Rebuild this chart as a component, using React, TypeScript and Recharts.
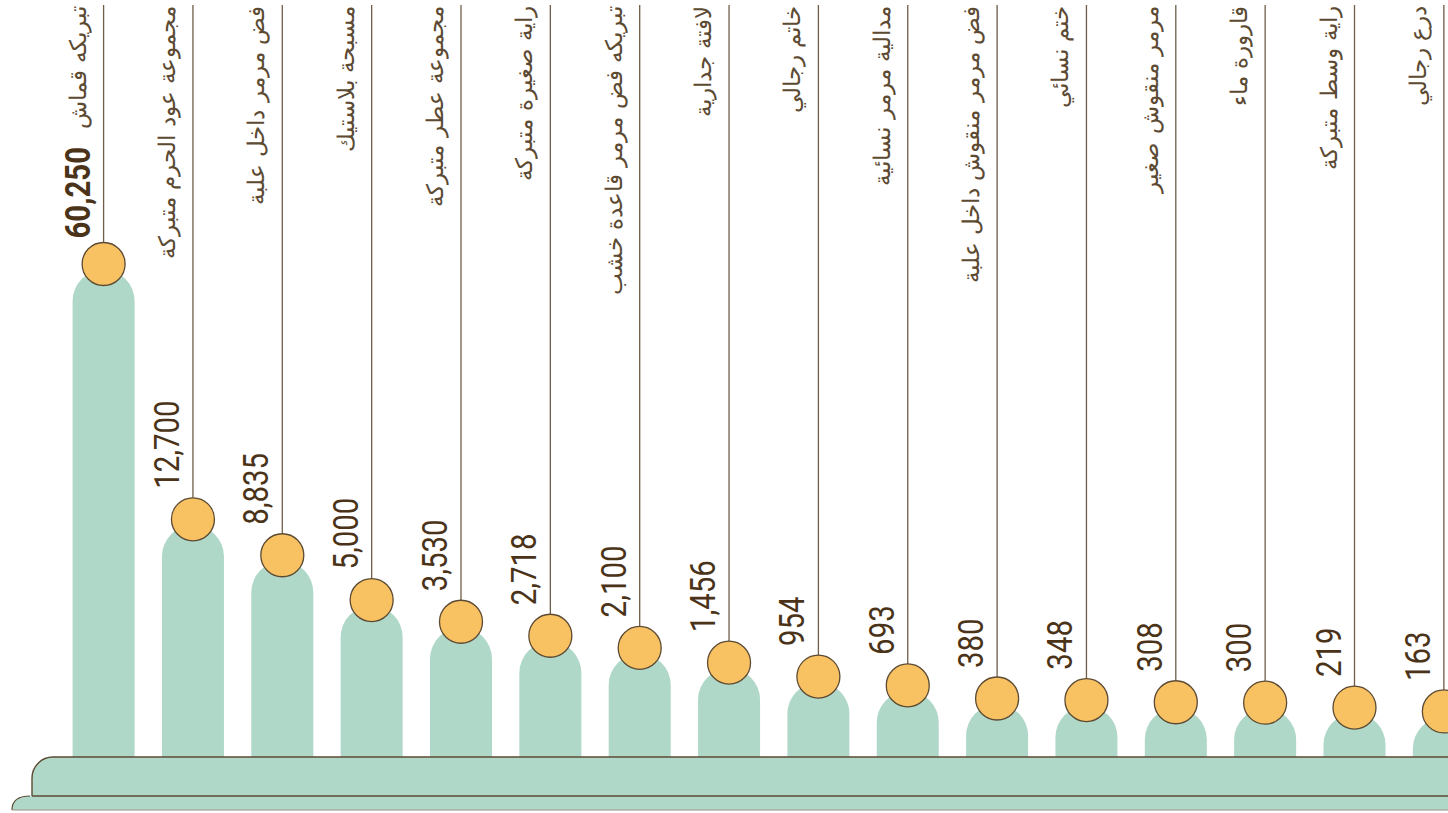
import React from 'react'
import { BarChart, Bar, XAxis, YAxis } from 'recharts'

const names = [
  'تبريكه قماش',
  'مجموعة عود الحرم متبركة',
  'فض مرمر داخل علبة',
  'مسبحة بلاستيك',
  'مجموعة عطر متبركة',
  'راية صغيرة متبركة',
  'تبريكه فض مرمر قاعدة خشب',
  'لافتة جدارية',
  'خاتم رجالي',
  'مدالية مرمر نسائية',
  'فض مرمر منقوش داخل علبة',
  'ختم نسائي',
  'مرمر منقوش صغير',
  'قارورة ماء',
  'راية وسط متبركة',
  'درع رجالي',
]

const values = [60250, 12700, 8835, 5000, 3530, 2718, 2100, 1456, 954, 693, 380, 348, 308, 300, 219, 163]

const data = names.map((name, i) => ({ name, value: values[i] }))

const BAR_FILL = '#b0d8c8'
const DOT_FILL = '#f8c263'
const BROWN = '#5c4a33'
const LINE = '#6e5d48'

const CHART_W = 1500
const CHART_H = 813

const PillarShape = (props: any) => {
  const { x, y, width, height, payload, index } = props
  if (x == null || y == null) return null
  const r = width / 2
  const cx = x + r
  const bottom = y + height + 20
  const path = `M${x},${bottom} L${x},${y + r} A${r},${r} 0 0 1 ${x + width},${y + r} L${x + width},${bottom} Z`
  const cy = y - 6
  const dotR = 21.5
  const dotTop = cy - dotR

  return (
    <g>
      <path d={path} fill={BAR_FILL} />
      <line x1={cx} x2={cx} y1={5} y2={dotTop} stroke={LINE} strokeWidth={1.3} />
      <circle cx={cx} cy={cy} r={dotR} fill={DOT_FILL} stroke={BROWN} strokeWidth={1.3} />
      <text
        transform={`translate(${cx - 14},${dotTop - (index === 0 ? 4 : 9)}) rotate(-90) scale(0.84,1)`}
        textAnchor="start"
        fontFamily="Roboto, sans-serif"
        fontSize={35}
        fontWeight={index === 0 ? 700 : 400}
        fill="#4a3318"
      >
        {payload.value.toLocaleString('en-US')}
      </text>
      <text
        transform={`translate(${cx - 18},6) rotate(-90)`}
        textAnchor="end"
        fontFamily='"DejaVu Sans", sans-serif'
        fontSize={23}
        fontWeight={300}
        fill={BROWN}
      >
        {payload.name}
      </text>
    </g>
  )
}

function Platform() {
  return (
    <svg
      width={1448}
      height={813}
      style={{ position: 'absolute', left: 0, top: 0, pointerEvents: 'none' }}
    >
      {/* lower step */}
      <path d="M12,810 C12,801 17,796 30,796 L1460,796 L1460,810 Z" fill={BAR_FILL} />
      <path d="M12,810 C12,801 17,796 30,796" fill="none" stroke={BROWN} strokeWidth={1.2} />
      <line x1={12} x2={1460} y1={810} y2={810} stroke="#9a9080" strokeWidth={1} />
      {/* upper step */}
      <path d="M32,796 L32,778 A21,21 0 0 1 53,757 L1460,757 L1460,796 Z" fill={BAR_FILL} />
      <path d="M32,796 L32,778 A21,21 0 0 1 53,757 L1460,757" fill="none" stroke={BROWN} strokeWidth={1.4} />
      <line x1={32} x2={1460} y1={796} y2={796} stroke={BROWN} strokeWidth={1.4} />
    </svg>
  )
}

export default function App() {
  return (
    <div
      style={{
        position: 'fixed',
        left: 0,
        top: 0,
        width: 1448,
        height: 813,
        overflow: 'hidden',
        background: '#ffffff',
      }}
    >
      <BarChart
        width={CHART_W}
        height={CHART_H}
        data={data}
        margin={{ top: 270, right: 11.8, bottom: 71, left: 58.6 }}
        barSize={62}
      >
        <XAxis dataKey="name" type="category" hide />
        <YAxis type="number" scale="sqrt" domain={[0, 60250]} hide />
        <Bar dataKey="value" isAnimationActive={false} shape={PillarShape} />
      </BarChart>
      <Platform />
    </div>
  )
}
